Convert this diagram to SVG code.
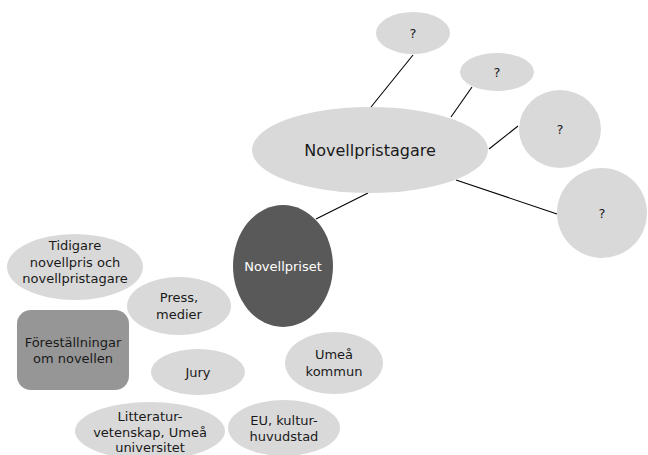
<svg xmlns="http://www.w3.org/2000/svg" width="648" height="455" viewBox="0 0 648 455">
<style>
.l{fill:#d9d9d9}
.t{font-family:"DejaVu Sans","Liberation Sans",sans-serif;font-size:13px;fill:#1a1a1a;text-anchor:middle}
.w{fill:#ffffff}
.big{font-size:16px}
.c line{stroke:#000;stroke-width:1.1}
</style>
<rect width="648" height="455" fill="#ffffff"/>
<g class="c">
<line x1="413" y1="55" x2="371" y2="107"/>
<line x1="472" y1="87" x2="451" y2="117"/>
<line x1="518" y1="126" x2="489" y2="149"/>
<line x1="456" y1="180" x2="557" y2="214"/>
<line x1="368" y1="193" x2="316" y2="219"/>
</g>
<g id="q1"><ellipse class="l" cx="413" cy="33" rx="37" ry="21"/><text class="t" x="413" y="38">?</text></g>
<g id="q2"><ellipse class="l" cx="497" cy="72" rx="37" ry="19"/><text class="t" x="497" y="77">?</text></g>
<g id="q3"><ellipse class="l" cx="560" cy="129" rx="41" ry="39"/><text class="t" x="560" y="134">?</text></g>
<g id="q4"><ellipse class="l" cx="602" cy="213" rx="45" ry="45"/><text class="t" x="602" y="218">?</text></g>
<g id="pristagare"><ellipse class="l" cx="370" cy="150" rx="118" ry="43"/><text class="t big" x="370" y="156">Novellpristagare</text></g>
<g id="priset"><ellipse fill="#595959" cx="283" cy="266" rx="50" ry="61"/><text class="t w" x="283" y="271">Novellpriset</text></g>
<g id="tidigare"><ellipse class="l" cx="75" cy="267" rx="68" ry="33"/><text class="t" x="75" y="250">Tidigare</text><text class="t" x="75" y="267">novellpris och</text><text class="t" x="75" y="283">novellpristagare</text></g>
<g id="press"><ellipse class="l" cx="179" cy="306" rx="52" ry="29"/><text class="t" x="179" y="302">Press,</text><text class="t" x="179" y="319">medier</text></g>
<g id="forestallningar"><rect fill="#969696" x="17" y="310" width="112" height="80" rx="14" ry="14"/><text class="t" x="73" y="347">Föreställningar</text><text class="t" x="73" y="363">om novellen</text></g>
<g id="jury"><ellipse class="l" cx="198" cy="372" rx="47" ry="23"/><text class="t" x="198" y="377">Jury</text></g>
<g id="umea"><ellipse class="l" cx="334" cy="363" rx="49" ry="31"/><text class="t" x="334" y="359">Umeå</text><text class="t" x="334" y="376">kommun</text></g>
<g id="litteratur"><ellipse class="l" cx="150" cy="431" rx="75" ry="29"/><text class="t" x="150" y="421">Litteratur-</text><text class="t" x="150" y="437">vetenskap, Umeå</text><text class="t" x="150" y="452">universitet</text></g>
<g id="eu"><ellipse class="l" cx="284" cy="428" rx="56" ry="28"/><text class="t" x="284" y="425">EU, kultur-</text><text class="t" x="284" y="441">huvudstad</text></g>
</svg>
